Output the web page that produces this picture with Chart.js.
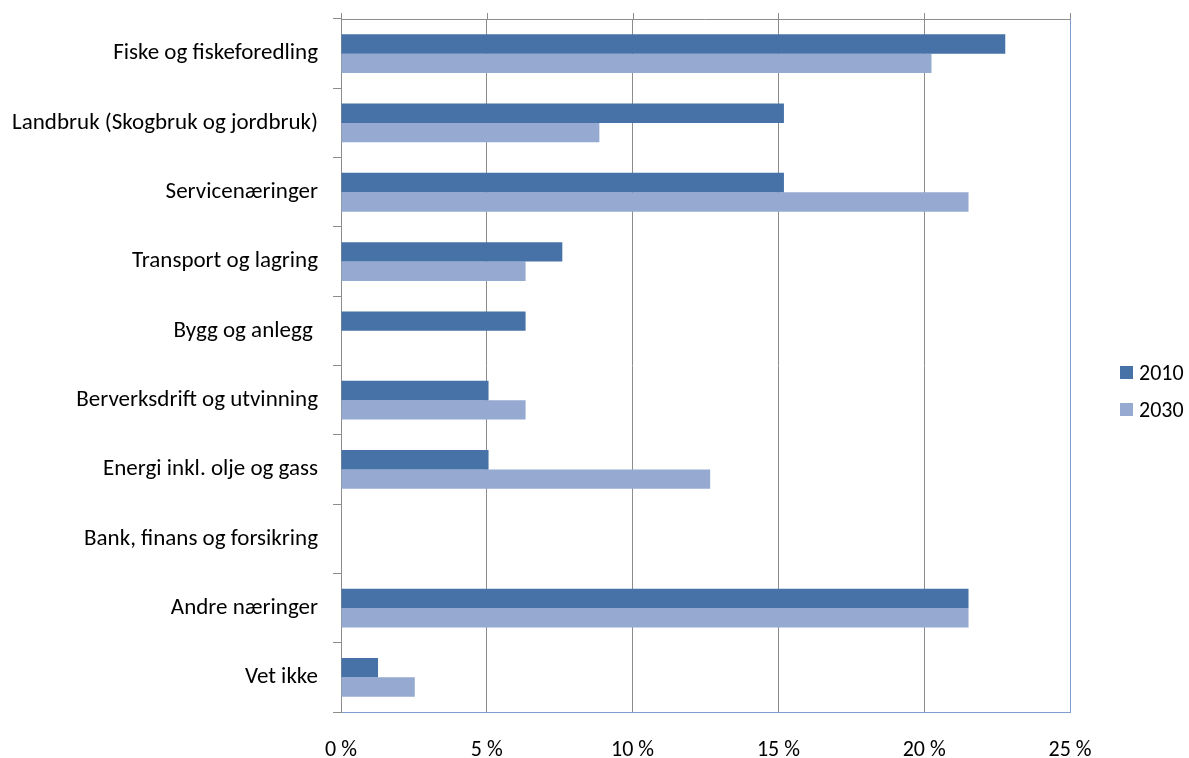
<!DOCTYPE html>
<html>
<head>
<meta charset="utf-8">
<script src="https://cdn.jsdelivr.net/npm/chart.js@4.4.1/dist/chart.umd.min.js"></script>
<style>
  body { margin: 0; background: #fff; }
  #wrap { position: relative; width: 1189px; height: 758px; }
  #legend { position: absolute; left: 1120px; top: 354px; font-family: Carlito, Lato, sans-serif; font-size: 22px; color: #000; }
  .item { display: flex; align-items: center; height: 37px; }
  .sw { width: 13px; height: 13px; margin-right: 6px; }
</style>
</head>
<body>
<div id="wrap">
  <canvas id="chart" width="1189" height="758"></canvas>
  <div id="legend"></div>
</div>
<script>
// categories, top to bottom
const categories = [
  'Fiske og fiskeforedling',
  'Landbruk (Skogbruk og jordbruk)',
  'Servicenæringer',
  'Transport og lagring',
  'Bygg og anlegg ',
  'Berverksdrift og utvinning',
  'Energi inkl. olje og gass',
  'Bank, finans og forsikring',
  'Andre næringer',
  'Vet ikke'
];
const seriesNames = ['2010', '2030'];
const values2010 = [22.78, 15.19, 15.19, 7.59, 6.33, 5.06, 5.06, 0, 21.52, 1.27];
const values2030 = [20.25, 8.86, 21.52, 6.33, 0, 6.33, 12.66, 0, 21.52, 2.53];
const seriesColors = ['#4672A8', '#95A9D1'];
const xTicks = [0, 5, 10, 15, 20, 25];

const FONT = 'Carlito, Lato, sans-serif';
const GRID = '#8c8c8c';
const AXIS_BLUE = '#7f9fcf';

// frame: grey top line, blue right line, small tick stubs above the top
const framePlugin = {
  id: 'frame',
  afterDraw(chart) {
    const { ctx, chartArea: a, scales } = chart;
    ctx.save();
    ctx.lineWidth = 1;
    ctx.strokeStyle = GRID;
    ctx.beginPath();
    ctx.moveTo(a.left, Math.round(a.top) + 0.5);
    ctx.lineTo(a.right, Math.round(a.top) + 0.5);
    xTicks.forEach(v => {
      const x = Math.round(scales.x.getPixelForValue(v)) + 0.5;
      ctx.moveTo(x, a.top - 6);
      ctx.lineTo(x, a.top);
    });
    ctx.stroke();
    ctx.strokeStyle = AXIS_BLUE;
    ctx.beginPath();
    const rx = Math.round(a.right) + 0.5;
    ctx.moveTo(rx, a.top);
    ctx.lineTo(rx, a.bottom);
    ctx.stroke();
    ctx.restore();
  }
};

new Chart(document.getElementById('chart'), {
  type: 'bar',
  data: {
    labels: categories,
    datasets: [
      { label: seriesNames[0], data: values2010, backgroundColor: seriesColors[0] },
      { label: seriesNames[1], data: values2030, backgroundColor: seriesColors[1] }
    ]
  },
  options: {
    indexAxis: 'y',
    responsive: false,
    animation: false,
    datasets: { bar: { barPercentage: 1, categoryPercentage: 0.56, borderWidth: 0 } },
    layout: { padding: { top: 19, right: 119, bottom: 0, left: 0 } },
    plugins: { legend: { display: false }, tooltip: { enabled: false } },
    scales: {
      x: {
        min: 0,
        max: 25,
        afterBuildTicks: s => { s.ticks = xTicks.map(v => ({ value: v })); },
        afterFit: s => { s.height = 46; s.paddingLeft = 0; s.paddingRight = 0; },
        grid: { color: GRID, drawTicks: false },
        border: { color: AXIS_BLUE },
        ticks: {
          padding: 25,
          color: '#000',
          font: { family: FONT, size: 22 },
          callback: v => v + ' %'
        }
      },
      y: {
        afterFit: s => { s.width = 341; s.paddingTop = 0; s.paddingBottom = 0; },
        grid: { offset: true, drawOnChartArea: false, tickLength: 8, color: GRID },
        border: { color: GRID },
        ticks: { padding: 15, color: '#000', font: { family: FONT, size: 23 } }
      }
    }
  },
  plugins: [framePlugin]
});

// legend
const legend = document.getElementById('legend');
seriesNames.forEach((name, i) => {
  const item = document.createElement('div');
  item.className = 'item';
  item.innerHTML = '<span class="sw" style="background:' + seriesColors[i] + '"></span><span>' + name + '</span>';
  legend.appendChild(item);
});
</script>
</body>
</html>
